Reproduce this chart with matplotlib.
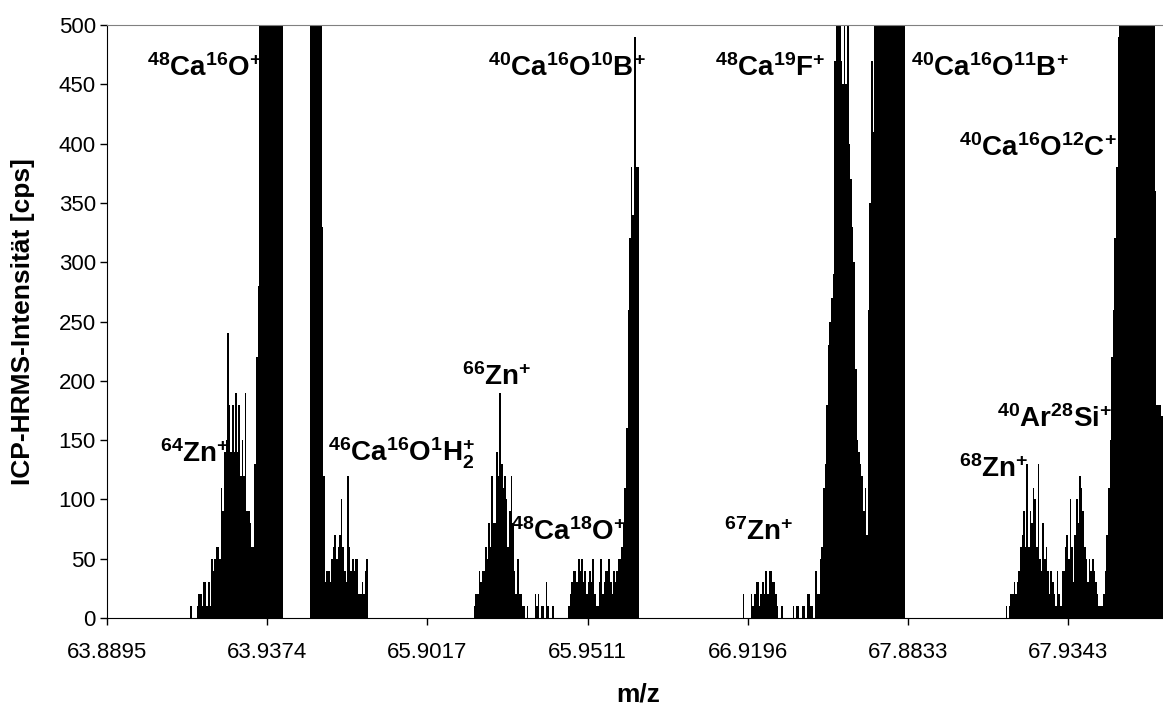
import numpy as np
import matplotlib.pyplot as plt

plt.rcParams['font.family'] = ['Liberation Sans', 'DejaVu Sans']
plt.rcParams['mathtext.fontset'] = 'custom'
plt.rcParams['mathtext.rm'] = 'Liberation Sans:bold'
plt.rcParams['mathtext.it'] = 'Liberation Sans:bold'
plt.rcParams['mathtext.bf'] = 'Liberation Sans:bold'

# scan channels, m/z label every 100 channels
n_channels = 660
mz_ticks = [0, 100, 200, 300, 400, 500, 600]
mz_labels = ["63.8895", "63.9374", "65.9017", "65.9511", "66.9196", "67.8833", "67.9343"]

# intensities [cps], each group = (first channel, counts per channel)
zn64 = (52, [10, 0, 0, 0, 10, 20, 20, 10, 30, 30, 10, 30, 10, 50, 40, 50, 60, 60, 50, 110,
             90, 140, 150, 240, 180, 140, 180, 140, 190, 140, 180, 120, 150, 120, 190, 90,
             90, 80, 60, 60, 130, 220, 280])
ca48_o16 = (95, [1200, 1800, 2600, 3400, 4100, 4600, 4800, 4700, 4300, 3700, 3000, 2300,
                 1600, 1100, 700])
peak_64b = (127, [900, 1500, 2200, 2400, 2000, 1300, 800, 330, 120])
ca46_o16_h2 = (136, [30, 40, 40, 30, 50, 60, 70, 50, 60, 70, 100, 60, 40, 30, 120, 60, 40,
                     50, 40, 50, 50, 20, 20, 30, 20, 40, 50])
zn66 = (229, [10, 20, 20, 40, 30, 40, 40, 60, 50, 80, 60, 120, 80, 80, 140, 120, 190, 130,
              110, 120, 100, 60, 90, 120, 80, 40, 20, 50, 20, 20, 10, 10, 0, 10, 0, 0, 0, 0,
              20, 10, 20, 0, 10, 10, 0, 30, 10, 0, 0, 10])
ca48_o18_b10 = (288, [10, 20, 30, 40, 40, 30, 50, 40, 50, 30, 40, 20, 30, 40, 30, 50, 20, 10,
                      10, 30, 50, 20, 30, 40, 40, 50, 30, 20, 40, 30, 40, 50, 50, 60, 80, 110,
                      160, 260, 320, 380, 340, 490, 380, 380])
zn67 = (397, [20, 0, 0, 0, 0, 20, 10, 20, 30, 30, 10, 20, 30, 20, 40, 20, 40, 40, 30, 30, 20,
              10, 0, 0, 10, 0, 0, 0, 0, 0, 0, 10, 0, 10, 10, 0, 0, 10, 10, 0, 20, 20, 10, 10,
              0, 40, 20, 20])
ca48_f19_b11 = (445, [50, 60, 110, 130, 180, 230, 250, 270, 290, 470, 900, 1300, 1100, 470,
                      450, 800, 450, 700, 400, 370, 330, 300, 210, 150, 140, 130, 120, 90, 110,
                      70, 260, 350, 470, 410, 900, 1500, 2300, 3200, 4000, 4700, 5200, 5500,
                      5600, 5400, 5000, 4400, 3700, 3000, 2300, 1700, 1200, 850, 600])
zn68_arsi_c12 = (561, [10, 0, 10, 20, 20, 30, 20, 30, 40, 60, 70, 90, 60, 130, 60, 90, 80, 110,
                       100, 60, 130, 50, 40, 80, 50, 60, 40, 20, 40, 30, 20, 10, 40, 20, 10, 40,
                       40, 60, 70, 50, 100, 60, 30, 70, 100, 80, 120, 110, 90, 60, 50, 30, 50,
                       40, 50, 40, 30, 20, 10, 10, 10, 20, 40, 70, 110, 150, 220, 260, 320, 380,
                       490, 800, 1300, 2000, 2800, 3600, 4400, 5100, 5700, 6100, 6400, 6500,
                       6400, 6100, 5600, 5000, 4300, 3500, 2700, 2000, 1400, 900, 600, 360, 180,
                       180, 180, 170, 150])

counts = np.zeros(n_channels)
for start, vals in [zn64, ca48_o16, peak_64b, ca46_o16_h2, zn66, ca48_o18_b10, zn67,
                    ca48_f19_b11, zn68_arsi_c12]:
    counts[start:start + len(vals)] = vals

# label text, (channel of its centre, cps of its baseline)
labels = [
    (r"$^{48}$Ca$^{16}$O$^{+}$", 61.2, 457),
    (r"$^{40}$Ca$^{16}$O$^{10}$B$^{+}$", 287.4, 457),
    (r"$^{48}$Ca$^{19}$F$^{+}$", 414.1, 457),
    (r"$^{40}$Ca$^{16}$O$^{11}$B$^{+}$", 551.3, 457),
    (r"$^{40}$Ca$^{16}$O$^{12}$C$^{+}$", 581.5, 389.5),
    (r"$^{64}$Zn$^{+}$", 54.9, 131.7),
    (r"$^{46}$Ca$^{16}$O$^{1}$H$_{2}^{+}$", 184.0, 131.7),
    (r"$^{66}$Zn$^{+}$", 243.3, 196.6),
    (r"$^{48}$Ca$^{18}$O$^{+}$", 288.0, 65.8),
    (r"$^{67}$Zn$^{+}$", 406.6, 65.8),
    (r"$^{40}$Ar$^{28}$Si$^{+}$", 591.4, 161),
    (r"$^{68}$Zn$^{+}$", 553.6, 118.8),
]

fig = plt.figure(figsize=(11.63, 7.05), dpi=100)
ax = fig.add_axes([107 / 1163, 1 - 618 / 705, 1056 / 1163, 593 / 705])

ax.bar(np.arange(n_channels), counts, width=1.0, align='edge', color='black', linewidth=0)

ax.set_xlim(0, 659.3)
ax.set_ylim(0, 500)
ax.set_yticks(range(0, 501, 50))
ax.set_xticks(mz_ticks)
ax.set_xticklabels(mz_labels)
ax.tick_params(axis='both', labelsize=16, length=5, width=1, color='black')
ax.tick_params(axis='x', pad=12)
ax.tick_params(axis='y', pad=3)

ax.spines['top'].set_color('#808080')
ax.spines['right'].set_visible(False)

for txt, x, y in labels:
    ax.text(x, y, txt, fontsize=20, fontweight='bold', ha='center', va='baseline')

fig.text(23 / 1163, 1 - 322 / 705, 'ICP-HRMS-Intensität [cps]', rotation=90,
         fontsize=19, fontweight='bold', ha='center', va='center')
fig.text(638 / 1163, 1 - 694 / 705, 'm/z', fontsize=19, fontweight='bold',
         ha='center', va='center')

plt.savefig('out.png', dpi=100)
